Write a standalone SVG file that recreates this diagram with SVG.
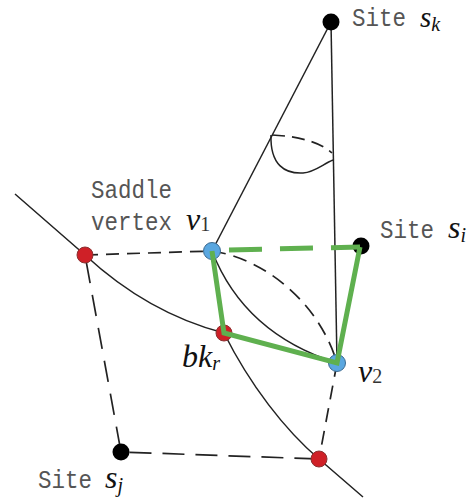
<svg xmlns="http://www.w3.org/2000/svg" width="476" height="500" viewBox="0 0 476 500">
<style>
.s{fill:none;stroke:#222;stroke-width:1.5}
.d{fill:none;stroke:#222;stroke-width:1.7}
.g{fill:none;stroke:#5fb04f;stroke-width:5}
.k{fill:#000}
.r{fill:#cf2027;stroke:#8a3030;stroke-width:1}
.b{fill:#5aa7e0;stroke:#3c6a90;stroke-width:1}
.m{font:25px "Liberation Mono",monospace;fill:#555}
.i{font:italic 32px "Liberation Serif",serif;fill:#111}
.t{font-size:29px}
.u{font-size:20px}
.n{font:20px "Liberation Serif",serif;fill:#333}
</style>
<rect width="476" height="500" fill="#fff"/>
<g id="connectors">
<path class="s" d="M15 194L85 255C125 292 170 319 224 333C250 385 285 430 319 459L363 497"/>
<path class="s" d="M331 22L212 251"/>
<path class="s" d="M331 22L337 363"/>
<path class="s" d="M212 251C235 310 280 345 337 363"/>
<path class="s" d="M271 135C270 165 285 174 303 173C315 172 323 164 333 160"/>
<path class="d" stroke-dasharray="13 7" d="M272 135C295 136 319 141 332 153"/>
<path class="d" stroke-dasharray="13 8" d="M85 255L212 251"/>
<path class="d" stroke-dasharray="14 8" d="M212 251C262 258 318 300 337 363"/>
<path class="d" stroke-dasharray="21.5 12" stroke-dashoffset="-7" d="M85 255L121 452"/>
<path class="d" stroke-dasharray="22 11" stroke-dashoffset="-8.5" d="M121 452L319 459"/>
<path class="d" stroke-dasharray="14 9" d="M337 363L319 459"/>
</g>
<g id="site-k"><circle class="k" cx="331" cy="22" r="8.5"/><text class="m" x="352" y="26" textLength="54" lengthAdjust="spacingAndGlyphs">Site</text><text class="i t" x="420" y="27">s<tspan class="u" dy="4">k</tspan></text></g>
<g id="site-i"><circle class="k" cx="361" cy="246" r="8.5"/><text class="m" x="380" y="238" textLength="54" lengthAdjust="spacingAndGlyphs">Site</text><text class="i" x="448" y="238">s<tspan class="u" dy="4">i</tspan></text></g>
<g id="site-j"><circle class="k" cx="121" cy="452" r="8.5"/><text class="m" x="38" y="488" textLength="54" lengthAdjust="spacingAndGlyphs">Site</text><text class="i" x="105" y="488">s<tspan class="u" dy="4">j</tspan></text></g>
<g id="saddle-left"><circle class="r" cx="85" cy="255" r="8"/></g>
<g id="saddle-bottom"><circle class="r" cx="319" cy="459" r="8"/></g>
<g id="v1"><circle class="b" cx="212" cy="251" r="8.5"/><text class="m" x="91" y="198" textLength="81" lengthAdjust="spacingAndGlyphs">Saddle</text><text class="m" x="91" y="230" textLength="81" lengthAdjust="spacingAndGlyphs">vertex</text><text class="i" x="186" y="230">v<tspan class="n" dy="1">1</tspan></text></g>
<g id="bkr"><circle class="r" cx="224" cy="333" r="8"/><text class="i" x="182" y="367">bk<tspan class="u" dy="3">r</tspan></text></g>
<g id="v2"><circle class="b" cx="337" cy="363" r="8.5"/><text class="i" x="358" y="382">v<tspan class="n" dy="1">2</tspan></text></g>
<g id="highlight">
<path class="g" d="M212 251L224 333L337 363L360 247"/>
<path class="g" stroke-dasharray="33 18" d="M229 250L360 247"/>
</g>
</svg>
